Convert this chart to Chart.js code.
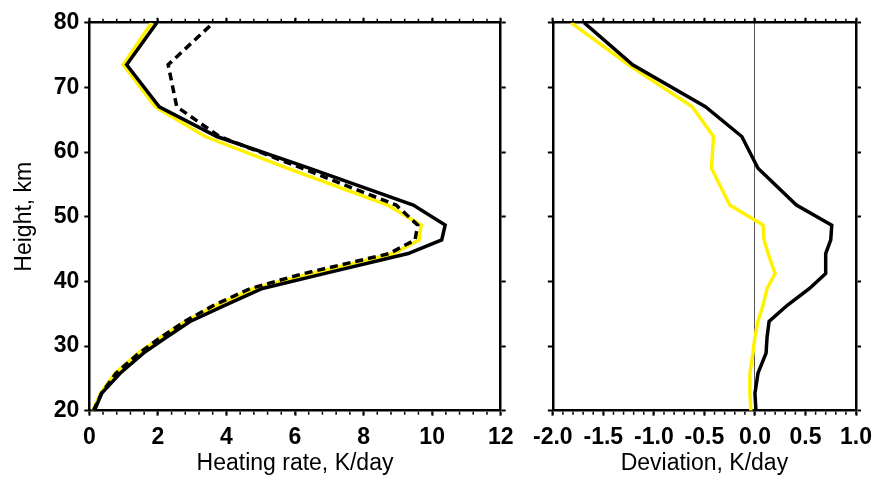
<!DOCTYPE html>
<html>
<head>
<meta charset="utf-8">
<script src="https://cdn.jsdelivr.net/npm/chart.js@4.4.1/dist/chart.umd.min.js"></script>
<style>
  html, body { margin: 0; padding: 0; background: #fff; }
  #wrap { position: relative; width: 880px; height: 477px; }
  #c1 { position: absolute; left: 0; top: 0; }
  #c2 { position: absolute; left: 525px; top: 0; }
</style>
</head>
<body>
<div id="wrap">
  <canvas id="c1" width="525" height="477"></canvas>
  <canvas id="c2" width="355" height="477"></canvas>
</div>
<script>
// heights (km) shared by every profile
const heights = [20, 22.7, 25.8, 28.9, 31.4, 33.8, 36.3, 38.9, 41.2, 44.3, 46.4, 48.7, 51.8, 57.5, 62.4, 67.0, 73.5, 80];

// left panel: heating rate, K/day
const rateModel = [0.15, 0.36, 0.90, 1.58, 2.26, 2.94, 3.95, 5.05, 6.85, 9.30, 10.28, 10.38, 9.45, 6.41, 3.72, 2.04, 1.09, 1.97];
const rateRef   = [0.12, 0.36, 0.78, 1.45, 2.10, 2.78, 3.63, 4.70, 6.25, 8.75, 9.50, 9.58, 8.95, 6.20, 3.80, 2.55, 2.30, 3.62];
const rateAlt   = [0.10, 0.33, 0.75, 1.43, 2.10, 2.80, 3.70, 4.80, 6.45, 8.88, 9.62, 9.68, 8.70, 5.77, 3.38, 1.92, 0.99, 1.82];

// right panel: deviation, K/day
const devModel = [0.01, 0.00, 0.03, 0.11, 0.12, 0.14, 0.32, 0.54, 0.70, 0.70, 0.75, 0.76, 0.41, 0.03, -0.13, -0.49, -1.21, -1.69];
const devAlt   = [-0.04, -0.05, -0.05, -0.02, 0.00, 0.03, 0.08, 0.12, 0.20, 0.13, 0.09, 0.08, -0.25, -0.43, -0.41, -0.62, -1.25, -1.82];

const rateTicks = [0, 12, 2];
const devTicks = [-2, 1, 0.5];
const heightTicks = [20, 80, 10];

const YELLOW = '#fff200';
const FONT = "'Liberation Sans', Arial, sans-serif";

function profile(values) {
  return values.map((v, i) => ({ x: v, y: heights[i] }));
}

function line(values, color, dash) {
  return {
    data: profile(values),
    borderColor: color,
    borderWidth: 3.5,
    borderDash: dash || [],
    pointRadius: 0,
    tension: 0,
    fill: false,
  };
}

// small minor tick marks on top and bottom edges
const minorTicks = {
  id: 'minorTicks',
  afterDraw(chart, args, opts) {
    const { ctx, chartArea } = chart;
    const sx = chart.scales.x;
    const n = Math.round((sx.max - sx.min) / opts.step);
    ctx.save();
    ctx.strokeStyle = '#000';
    ctx.lineWidth = 1.5;
    ctx.beginPath();
    for (let i = 0; i <= n; i++) {
      const px = sx.getPixelForValue(sx.min + i * opts.step);
      ctx.moveTo(px, chartArea.bottom + 1);
      ctx.lineTo(px, chartArea.bottom + 4);
      ctx.moveTo(px, chartArea.top - 1);
      ctx.lineTo(px, chartArea.top - 4);
    }
    ctx.stroke();
    ctx.restore();
  },
};

function edgeGrid(extra) {
  return Object.assign({ drawOnChartArea: false, tickLength: 5, tickWidth: 2, tickColor: '#000' }, extra || {});
}
const edgeBorder = { display: true, color: '#000', width: 2.5 };
const tickFont = { family: FONT, size: 23, weight: 'bold', lineHeight: 1.2 };
const titleFont = { family: FONT, size: 23, lineHeight: 1.2 };

function xScales(range, title, label, gridExtra, bottomH) {
  return {
    x: {
      type: 'linear', position: 'bottom', min: range[0], max: range[1],
      ticks: { stepSize: range[2], autoSkip: false, maxRotation: 0, color: '#000', font: tickFont, padding: 8, callback: label },
      grid: edgeGrid(gridExtra),
      border: edgeBorder,
      title: { display: true, text: title, color: '#000', font: titleFont, padding: { top: 0, bottom: 0 } },
      afterFit: (s) => { s.height = bottomH; },
    },
    x2: {
      type: 'linear', axis: 'x', position: 'top', min: range[0], max: range[1],
      ticks: { stepSize: range[2], display: false },
      grid: edgeGrid(),
      border: edgeBorder,
      afterFit: (s) => { s.height = 22.7; },
    },
  };
}

function yScales(showLabels, leftW, rightW) {
  return {
    y: {
      type: 'linear', position: 'left', min: heightTicks[0], max: heightTicks[1],
      ticks: { stepSize: heightTicks[2], display: showLabels, color: '#000', font: tickFont, padding: 5 },
      grid: edgeGrid(),
      border: edgeBorder,
      title: { display: showLabels, text: 'Height, km', color: '#000', font: titleFont, padding: { top: 11, bottom: 0 } },
      afterFit: (s) => { s.width = leftW; },
    },
    y2: {
      type: 'linear', axis: 'y', position: 'right', min: heightTicks[0], max: heightTicks[1],
      ticks: { stepSize: heightTicks[2], display: false },
      grid: edgeGrid(),
      border: edgeBorder,
      afterFit: (s) => { s.width = rightW; },
    },
  };
}

const baseOptions = {
  responsive: false,
  animation: false,
  devicePixelRatio: 1,
  layout: { padding: 0 },
  plugins: { legend: { display: false }, tooltip: { enabled: false } },
};

new Chart(document.getElementById('c1'), {
  type: 'line',
  data: {
    datasets: [
      line(rateRef, '#000', [8, 5]),
      line(rateModel, '#000'),
      line(rateAlt, YELLOW),
    ],
  },
  options: Object.assign({}, baseOptions, {
    plugins: Object.assign({}, baseOptions.plugins, { minorTicks: { step: 0.4 } }),
    scales: Object.assign(
      xScales(rateTicks, 'Heating rate, K/day', (v) => String(v), null, 66.3),
      yScales(true, 89.3, 24.3)
    ),
  }),
  plugins: [minorTicks],
});

new Chart(document.getElementById('c2'), {
  type: 'line',
  data: {
    datasets: [
      line(devModel, '#000'),
      line(devAlt, YELLOW),
    ],
  },
  options: Object.assign({}, baseOptions, {
    plugins: Object.assign({}, baseOptions.plugins, { minorTicks: { step: 0.1 } }),
    scales: Object.assign(
      xScales(devTicks, 'Deviation, K/day', (v) => (Math.round(v * 10) / 10).toFixed(1), {
        drawOnChartArea: true,
        color: (c) => (c.tick && Math.abs(c.tick.value) < 1e-9 ? '#555' : 'rgba(0,0,0,0)'),
        lineWidth: 1,
      }, 66.3),
      yScales(false, 25, 19.3)
    ),
  }),
  plugins: [minorTicks],
});
</script>
</body>
</html>
